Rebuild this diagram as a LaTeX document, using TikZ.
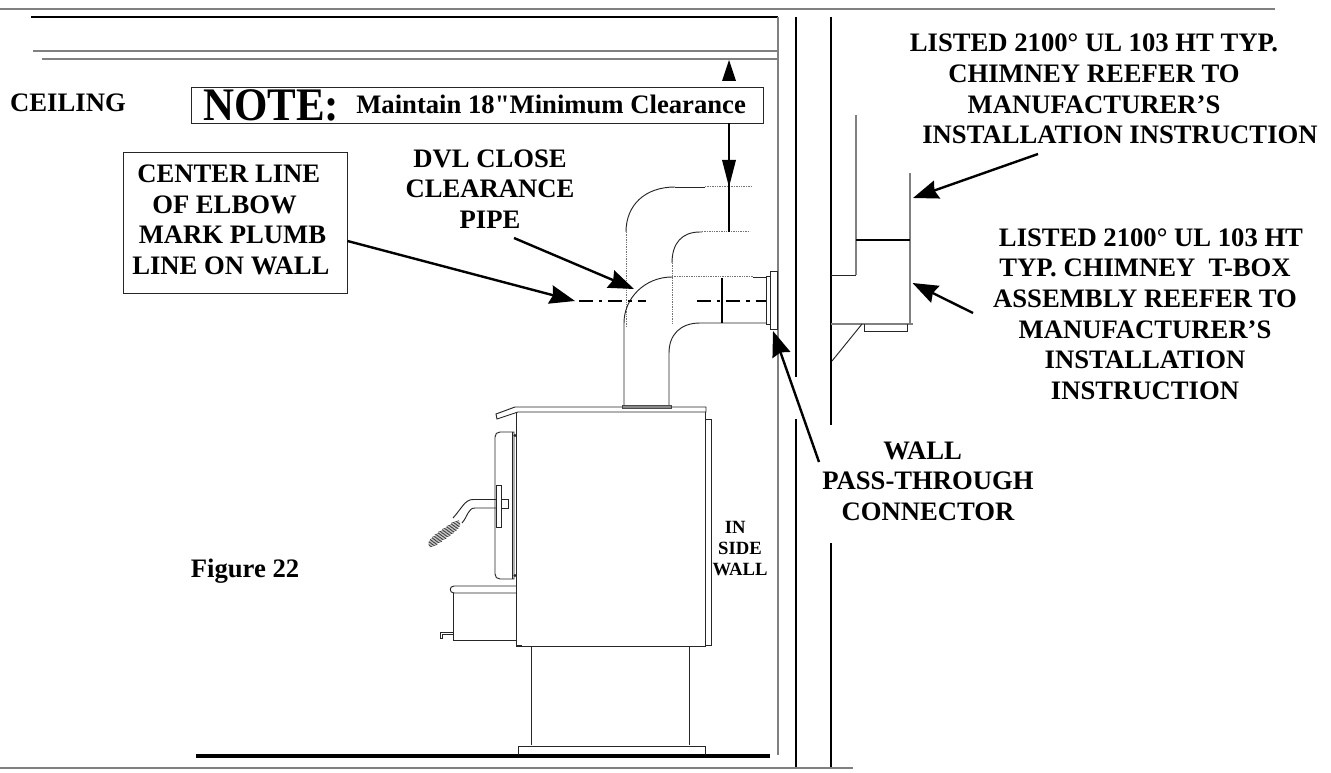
\documentclass[tikz,border=0pt]{standalone}
\usepackage{fontspec}
\setmainfont[Ligatures=TeXOff]{Liberation Serif}
\usetikzlibrary{arrows.meta}
\tikzset{
 x=0.75pt,y=-0.75pt,
 gr/.style={draw=black!50,line width=1.1pt},
 thin1/.style={draw=black!85,line width=0.7pt},
 thick1/.style={draw=black,line width=2.2pt},
 dot1/.style={draw=black!55,line width=0.75pt,dash pattern=on 1pt off 0.8pt},
 lead/.style={draw=black,line width=1.8pt,-{Stealth[length=19pt,width=14pt,inset=2pt]}},
 cl/.style={draw=black,line width=1.9pt,dash pattern=on 10.5pt off 4.5pt on 2.5pt off 4.5pt},
 lab/.style={font=\fontsize{20}{23}\selectfont\bfseries,align=center,inner sep=0pt},
 boxed/.style={draw=black!85,line width=0.8pt,fill=white},
}
\begin{document}
\begin{tikzpicture}
\useasboundingbox (0,0) rectangle (1331,773);
\fill[white] (0,0) rectangle (1331,773);
% frame
\coordinate (ta) at (0,9); \coordinate (tb) at (1275,9);
\draw[gr] (ta)--(tb);
\draw[thick1] (31,17)--(778,17);
\draw[gr] (33,51)--(778,51);
\draw[gr] (42,59)--(778,59);
\draw[gr] (778,17)--(778,755);
\draw[gr] (0,768)--(853,768);
\draw[draw=black,line width=2.4pt] (196,756)--(770,756);
\draw[thick1] (796,17)--(796,377);
\draw[thick1] (796,419)--(796,767);
\draw[thick1] (831,17)--(831,425);
\draw[thick1] (831,543)--(831,767);
% chimney
\draw[gr] (856,115)--(856,275);
\draw[thin1] (831,275)--(856,275);
\draw[gr] (910,173)--(910,324);
\draw[thick1] (856,240)--(910,240);
\draw[gr] (831,324)--(913,324);
\draw[thin1] (864,324)--(864,331)--(907,331)--(907,324);
\draw[thin1] (862,324)--(832,361);
% pipes
\draw[thin1] (675,187)--(705,187);
\draw[thin1] (675,187) .. controls (645,187) and (626,205) .. (626,232);
\draw[dot1] (705,187)--(751,187);
\draw[dot1] (626,232)--(626,326);
\draw[thin1] (702,232) -- (700,232) .. controls (682,232) and (672,243) .. (672,263);
\draw[dot1] (702,232)--(750,232);
\draw[dot1] (672,263)--(672,325);
\draw[thin1] (624,405)--(624,323) .. controls (624,298) and (645,277) .. (672,277);
\draw[dot1] (672,277)--(753,277);
\draw[thin1] (753,277)--(766,277);
\draw[thin1] (669,405)--(669,353) .. controls (669,335) and (680,323) .. (700,323)--(766,323);
\draw[draw=black!70,fill=black!25,line width=0.6pt] (622,405) rectangle (671,408);
\draw[thick1] (722,278)--(722,323);
\coordinate (cla) at (579,301); \coordinate (clb) at (646,301);
\coordinate (clc) at (697,301); \coordinate (cld) at (766,301);
\draw[cl] (cla)--(clb);
\draw[cl] (clc)--(cld);
\draw[thin1,fill=white] (766,276) rectangle (770,324);
\draw[thin1,fill=white] (770,271) rectangle (777,329);
% stove
\draw[thin1] (515,407)--(706,407)--(706,412)--(518,412)--(497,419)--(496,414)--cycle;
\draw[thin1] (516.5,412)--(516.5,646)--(705.5,646)--(705.5,412);
\draw[draw=black!85,line width=1.1pt] (516.5,625)--(516.5,646)--(522,646);
\draw[thin1] (706,419)--(711,419)--(711,645)--(706,645);
\draw[thin1] (514,432)--(500,432) .. controls (497,432) and (495,434) .. (495,437)--(495,574) .. controls (495,577) and (497,579) .. (500,579)--(514,579)--cycle;
\draw[thin1] (512,432)--(512,579);
\draw[thin1] (515,435.5)circle(1);\draw[thin1] (515,575.5)circle(1);
\draw[thin1] (501,499.5)--(508.5,499.5)--(508.5,508)--(501,508);
\draw[thin1] (496.5,499.5)--(473,499.5) .. controls (465,499.5) and (462,508) .. (453,518);
\draw[thin1] (496.5,508)--(475,508) .. controls (468,508) and (468,516) .. (462,523);
\draw[thin1,fill=white] (496.5,485) rectangle (501.5,527);
\foreach \i in {0,...,11}{
 \pgfmathsetmacro{\cx}{455-\i*1.95}
 \pgfmathsetmacro{\cy}{522+\i*2.15}
 \pgfmathsetmacro{\ll}{(4+10*sin(\i*180/11))}
 \draw[draw=black!85,line width=0.45pt] ({\cx-0.95*\ll},{\cy+0.33*\ll}) -- ({\cx+0.95*\ll},{\cy-0.33*\ll});
}
\draw[thin1] (516,586)--(454,586) .. controls (449,586) and (449,593) .. (454,593)--(516,593);
\draw[thin1] (453,593)--(453,640.5)--(516,640.5);
\draw[thin1] (453,632)--(440,632)--(440,638)--(442,638)--(442,634)--(453,634);
\draw[thin1] (531,646)--(531,745);
\draw[thin1] (689,646)--(689,745);
\draw[thin1] (518.7,755)--(518.7,746)--(705,746)--(705,755);
% boxes and labels
\node[boxed,minimum width=429pt,minimum height=27pt,anchor=north west,inner sep=0pt] (note) at (191,87) {};
\node[inner sep=0pt,anchor=base west,xscale=.92,font=\fontsize{35}{36}\selectfont\bfseries] (notet) at (203,121) {NOTE:};
\node[inner sep=0pt,anchor=base west,font=\fontsize{20}{20}\selectfont\bfseries] (notem) at (356,114) {Maintain 18"Minimum Clearance};
\node[lab] (ceil) at (68,103) {CEILING};
\fill[black] (722,81)--(736,81)--(729,60)--cycle;
\coordinate (cl1) at (729,123); \coordinate (cl2) at (729,232);
\draw[thick1] (cl1)--(cl2);
\fill[black] (722,160)--(736,160)--(729,187)--cycle;
\node[boxed,anchor=north west,minimum width=168pt,minimum height=106pt,inner sep=0pt] (cbox) at (123,152) {};
\node[lab,align=left,anchor=west] (ctext) at (132,220) {\hspace*{3.75pt}CENTER LINE\\\hspace*{15pt}OF ELBOW\\\hspace*{4.9pt}MARK PLUMB\\LINE ON WALL};
\node[lab] (dvl) at (490,189) {DVL CLOSE\\CLEARANCE\\PIPE};
\node[lab] (fig22) at (245,571) {Figure 22};
\node[lab] (wp) at (928,481) {WALL\hspace*{8pt}\\PASS-THROUGH\\CONNECTOR};
\node[lab,font=\fontsize{14}{16.1}\selectfont\bfseries] (isw) at (740,548.5) {IN\hspace*{7pt}\\SIDE\hspace*{4pt}\\WALL};
\node[lab] (r1) at (1094,89) {LISTED 2100° UL 103 HT TYP.\\CHIMNEY REEFER TO\\MANUFACTURER’S\\\hspace*{39pt}INSTALLATION INSTRUCTION};
\node[lab] (r2) at (1145,314) {\hspace*{9pt}LISTED 2100° UL 103 HT\\TYP. CHIMNEY\ \ T-BOX\\ASSEMBLY REEFER TO\\MANUFACTURER’S\\INSTALLATION\\INSTRUCTION};
% arrows
\coordinate (t1) at (347.5,241);\coordinate (h1) at (575,301);
\draw[lead] (t1)--(h1);
\coordinate (t2) at (514,238);\coordinate (h2) at (634,289);
\draw[lead] (t2)--(h2);
\coordinate (t3) at (1038,154);\coordinate (h3) at (913,198);
\draw[lead] (t3)--(h3);
\coordinate (t4) at (973,313);\coordinate (h4) at (912.5,283);
\draw[lead] (t4)--(h4);
\coordinate (t5) at (819,462);\coordinate (h5) at (773,331);
\draw[lead] (t5)--(h5);
\end{tikzpicture}
\end{document}
